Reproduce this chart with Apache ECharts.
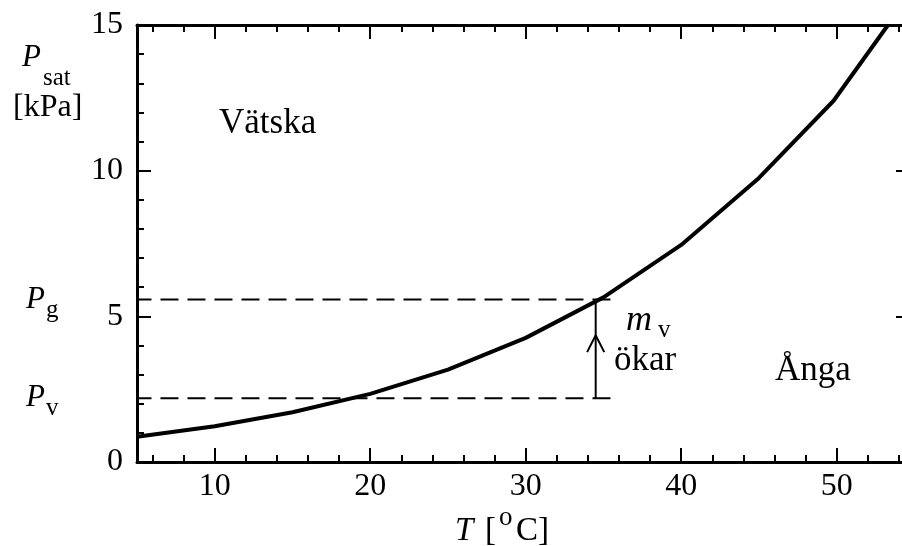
<!DOCTYPE html>
<html>
<head>
<meta charset="utf-8">
<script src="https://cdn.jsdelivr.net/npm/echarts@6/dist/echarts.min.js"></script>
<style>
  html, body { margin: 0; background: #fff; }
  #main { width: 902px; height: 546px; }
</style>
</head>
<body>
<div id="main"></div>
<script>
// saturation curve
const tempC = [5, 10, 15, 20, 25, 30, 35, 40, 45, 49.8, 53.3];
const pSat = [0.87, 1.23, 1.71, 2.34, 3.17, 4.26, 5.65, 7.45, 9.75, 12.4, 15];

const xMajor = [10, 20, 30, 40, 50];
const xMinor = [6, 8, 12, 14, 16, 18, 22, 24, 26, 28, 32, 34, 36, 38, 42, 44, 46, 48, 52, 54];

// dashed levels and the arrow
const pG = 5.58;
const pV = 2.19;
const dashT = [1.3, 35.5];
const arrowT = 34.5;
const arrowHead = [[33.95, 3.77], [34.5, 4.35], [35.05, 3.77]];

const FONT = '"Liberation Serif", "DejaVu Serif", serif';
const BLACK = '#000';

const chart = echarts.init(document.getElementById('main'));

const baseX = { type: 'value', min: 5, max: 54.2, splitLine: { show: false } };

function txt(x, y, text, size, italic) {
  return {
    type: 'text',
    x: x,
    y: y,
    style: {
      text: text,
      font: (italic ? 'italic ' : '') + size + 'px ' + FONT,
      fill: BLACK,
      verticalAlign: 'middle',
    },
  };
}

const option = {
  animation: false,
  backgroundColor: '#fff',
  grid: { left: 137, right: 0, top: 25, bottom: 84 },
  xAxis: [
    {
      ...baseX,
      position: 'bottom',
      axisLine: { lineStyle: { color: BLACK, width: 3 } },
      axisTick: { inside: true, length: 14, customValues: xMajor, lineStyle: { color: BLACK, width: 2 } },
      axisLabel: { customValues: xMajor, color: BLACK, fontSize: 32, fontFamily: FONT, margin: 9 },
    },
    {
      ...baseX,
      position: 'bottom',
      axisLine: { show: false },
      axisTick: { inside: true, length: 7, customValues: xMinor, lineStyle: { color: BLACK, width: 2 } },
      axisLabel: { show: false },
    },
    {
      ...baseX,
      position: 'top',
      axisLine: { lineStyle: { color: BLACK, width: 3 } },
      axisTick: { inside: true, length: 14, customValues: xMajor, lineStyle: { color: BLACK, width: 2 } },
      axisLabel: { show: false },
    },
    {
      ...baseX,
      position: 'top',
      axisLine: { show: false },
      axisTick: { inside: true, length: 7, customValues: xMinor, lineStyle: { color: BLACK, width: 2 } },
      axisLabel: { show: false },
    },
  ],
  yAxis: [
    {
      type: 'value',
      position: 'left',
      min: 0,
      max: 15,
      interval: 5,
      splitLine: { show: false },
      axisLine: { show: true, lineStyle: { color: BLACK, width: 3 } },
      axisTick: { show: true, inside: true, length: 14, lineStyle: { color: BLACK, width: 2 } },
      minorTick: { show: true, splitNumber: 5, length: 7, lineStyle: { color: BLACK, width: 2 } },
      axisLabel: { color: BLACK, fontSize: 32, fontFamily: FONT, margin: 14 },
    },
    {
      type: 'value',
      position: 'right',
      min: 0,
      max: 15,
      interval: 5,
      splitLine: { show: false },
      axisLine: { show: false },
      axisTick: { show: true, inside: true, length: 6, lineStyle: { color: BLACK, width: 2 } },
      axisLabel: { show: false },
    },
  ],
  series: [
    {
      name: 'Psat',
      type: 'line',
      data: tempC.map((t, i) => [t, pSat[i]]),
      symbol: 'none',
      lineStyle: { color: BLACK, width: 4 },
      z: 5,
    },
    {
      type: 'line',
      data: dashT.map((t) => [t, pG]),
      symbol: 'none',
      clip: false,
      lineStyle: { color: BLACK, width: 2, type: [18, 9] },
    },
    {
      type: 'line',
      data: dashT.map((t) => [t, pV]),
      symbol: 'none',
      clip: false,
      lineStyle: { color: BLACK, width: 2, type: [18, 9] },
    },
    {
      type: 'line',
      data: [[arrowT, pV], [arrowT, pG]],
      symbol: 'none',
      lineStyle: { color: BLACK, width: 2 },
    },
    {
      type: 'line',
      data: arrowHead,
      symbol: 'none',
      lineStyle: { color: BLACK, width: 2 },
    },
  ],
  graphic: [
    txt(22, 58, 'P', 31, true),
    txt(43, 78, 'sat', 25, false),
    txt(13, 108, '[kPa]', 32, false),
    txt(26, 300, 'P', 31, true),
    txt(46, 310, 'g', 25, false),
    txt(26, 398, 'P', 31, true),
    txt(46, 408, 'v', 25, false),
    txt(219, 124, 'Vätska', 35, false),
    txt(775, 371, 'Ånga', 35, false),
    txt(626, 321, 'm', 36, true),
    txt(658, 330, 'v', 25, false),
    txt(614, 361, 'ökar', 35, false),
    txt(455, 531, 'T', 33, true),
    txt(485, 531, '[', 33, false),
    txt(499, 518, 'o', 27, false),
    txt(516, 531, 'C]', 33, false),
  ],
};

chart.setOption(option);
</script>
</body>
</html>
